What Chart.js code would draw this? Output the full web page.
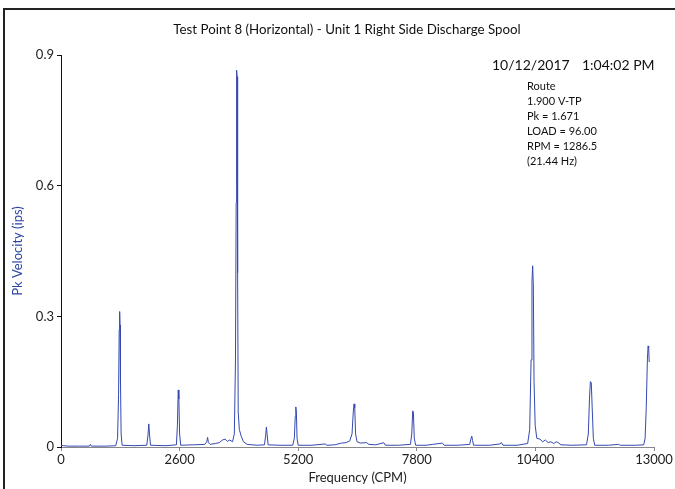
<!DOCTYPE html>
<html>
<head>
<meta charset="utf-8">
<script src="https://cdn.jsdelivr.net/npm/chart.js@4"></script>
<style>
  html, body { margin: 0; padding: 0; background: #fff; }
  #wrap { position: relative; width: 675px; height: 489px; }
</style>
</head>
<body>
<div id="wrap"><canvas id="spectrum" width="675" height="489"></canvas></div>
<script>
// spectrum: frequency (CPM) and peak velocity (ips)
const freqCpm = [
    0, 60, 150, 400, 620, 643, 665, 1000, 1200, 1240, 1262, 1276, 1286, 1294, 1304, 1318, 1340,
    1600, 1880, 1905, 1925, 1940, 1962, 2300, 2530, 2552, 2570, 2584, 2600, 2625,
    2900, 3150, 3195, 3214, 3232, 3270, 3380, 3470, 3540, 3600, 3650, 3700, 3760,
    3800, 3825, 3840, 3850, 3862, 3872, 3885, 3910, 3950, 4000, 4080, 4300,
    4460, 4485, 4503, 4518, 4540, 4800, 5080, 5115, 5135, 5148, 5160, 5175, 5200,
    5500, 5790, 5830, 6000, 6150, 6250, 6330, 6380, 6410, 6425, 6440, 6458, 6490, 6560,
    6700, 6750, 6900, 7076, 7110, 7400, 7660, 7690, 7710, 7725, 7745, 7775,
    8000, 8150, 8362, 8400, 8700, 8960, 8985, 9005, 9022, 9045, 9400, 9620, 9655, 9690,
    10000, 10230, 10275, 10305, 10325, 10340, 10355, 10370, 10395, 10430, 10500, 10560,
    10620, 10680, 10740, 10800, 10860, 10900, 10960, 11200, 11520, 11560, 11585, 11605,
    11625, 11645, 11670, 11700, 12000, 12222, 12260, 12600, 12775, 12805, 12830, 12855,
    12870, 12883, 12895
];
const pkVel = [
    0.004, 0.003, 0.002, 0.002, 0.002, 0.006, 0.002, 0.002, 0.003, 0.02, 0.12, 0.27, 0.311, 0.28, 0.15, 0.03, 0.004,
    0.003, 0.004, 0.025, 0.053, 0.03, 0.004, 0.003, 0.005, 0.05, 0.131, 0.11, 0.03, 0.004,
    0.005, 0.006, 0.012, 0.022, 0.01, 0.006, 0.008, 0.01, 0.016, 0.018, 0.013, 0.016, 0.012,
    0.03, 0.2, 0.56, 0.865, 0.85, 0.4, 0.08, 0.04, 0.025, 0.012, 0.006, 0.004,
    0.005, 0.025, 0.046, 0.03, 0.005, 0.004, 0.004, 0.02, 0.07, 0.092, 0.08, 0.02, 0.004,
    0.004, 0.007, 0.004, 0.005, 0.009, 0.01, 0.014, 0.03, 0.085, 0.099, 0.09, 0.03, 0.012, 0.009,
    0.01, 0.006, 0.005, 0.01, 0.004, 0.004, 0.006, 0.03, 0.083, 0.08, 0.02, 0.004,
    0.004, 0.006, 0.009, 0.004, 0.004, 0.006, 0.018, 0.025, 0.015, 0.004, 0.004, 0.007, 0.01, 0.004,
    0.004, 0.008, 0.04, 0.2, 0.38, 0.416, 0.37, 0.15, 0.05, 0.02, 0.018, 0.012,
    0.016, 0.01, 0.012, 0.008, 0.012, 0.01, 0.005, 0.004, 0.005, 0.03, 0.11, 0.15,
    0.148, 0.09, 0.02, 0.004, 0.004, 0.006, 0.004, 0.004, 0.005, 0.02, 0.09, 0.2,
    0.232, 0.228, 0.195
];
const xTicks = [0, 2600, 5200, 7800, 10400, 13000];
const yTicks = [0, 0.3, 0.6, 0.9];
const titleText = 'Test Point 8 (Horizontal) - Unit 1 Right Side Discharge Spool';
const stampText = ['10/12/2017', '1:04:02 PM'];
const infoLines = ['Route', '1.900 V-TP', 'Pk = 1.671', 'LOAD = 96.00', 'RPM = 1286.5', '(21.44 Hz)'];

const FONT = 'Lato, "Open Sans", sans-serif';

let points = freqCpm.map((f, i) => ({ x: f, y: pkVel[i] }));

// frame, title and the header text block
const decor = {
    id: 'decor',
    beforeDraw(chart) {
        const ctx = chart.ctx;
        ctx.save();
        ctx.fillStyle = '#fff';
        ctx.fillRect(0, 0, chart.width, chart.height);
        ctx.strokeStyle = '#222';
        ctx.lineWidth = 2;
        ctx.beginPath();
        ctx.moveTo(4, chart.height);
        ctx.lineTo(4, 9);
        ctx.lineTo(chart.width, 9);
        ctx.stroke();
        ctx.restore();
    },
    afterDraw(chart) {
        const ctx = chart.ctx;
        ctx.save();
        ctx.fillStyle = '#111';
        ctx.textBaseline = 'middle';
        ctx.textAlign = 'center';
        ctx.font = '13.3px ' + FONT;
        ctx.fillText(titleText, 347, 30);
        ctx.textAlign = 'left';
        ctx.font = '14px ' + FONT;
        ctx.fillText(stampText[0], 492, 65);
        ctx.fillText(stampText[1], 582, 65);
        ctx.font = '11px ' + FONT;
        infoLines.forEach((t, i) => ctx.fillText(t, 527, 86 + i * 15));
        ctx.restore();
    }
};

let cfg = {
    type: 'line',
    data: {
        datasets: [{
            data: points,
            borderColor: '#3549b0',
            borderWidth: 1,
            pointRadius: 0,
            tension: 0,
            fill: false
        }]
    },
    options: {
        responsive: false,
        animation: false,
        layout: { padding: { top: 55, right: 21, left: 0, bottom: 0 } },
        plugins: {
            legend: { display: false },
            tooltip: { enabled: false },
            title: { display: false }
        },
        scales: {
            x: {
                type: 'linear',
                min: 0,
                max: 13000,
                afterBuildTicks: s => { s.ticks = xTicks.map(v => ({ value: v })); },
                afterFit: s => { s.height = 42; },
                border: { display: true, color: '#888', width: 1 },
                grid: { drawOnChartArea: false, tickLength: 4, color: '#888' },
                ticks: {
                    color: '#222',
                    font: { family: FONT, size: 13 },
                    padding: 1,
                    maxRotation: 0,
                    callback: v => String(v)
                },
                title: {
                    display: true,
                    text: 'Frequency (CPM)',
                    color: '#222',
                    font: { family: FONT, size: 13 },
                    padding: { top: 2, bottom: 3 }
                }
            },
            y: {
                min: 0,
                max: 0.9,
                afterBuildTicks: s => { s.ticks = yTicks.map(v => ({ value: v })); },
                afterFit: s => { s.width = 61; },
                border: { display: true, color: '#111', width: 1 },
                grid: { drawOnChartArea: false, tickLength: 4, color: '#111' },
                ticks: {
                    color: '#222',
                    font: { family: FONT, size: 13 },
                    padding: 3,
                    callback: v => String(v)
                },
                title: {
                    display: true,
                    text: 'Pk Velocity (ips)',
                    color: '#2d48a0',
                    font: { family: FONT, size: 13 },
                    padding: { top: 10, bottom: 8 }
                }
            }
        }
    },
    plugins: [decor]
};

let chart = new Chart(document.getElementById('spectrum'), cfg);
</script>
</body>
</html>
